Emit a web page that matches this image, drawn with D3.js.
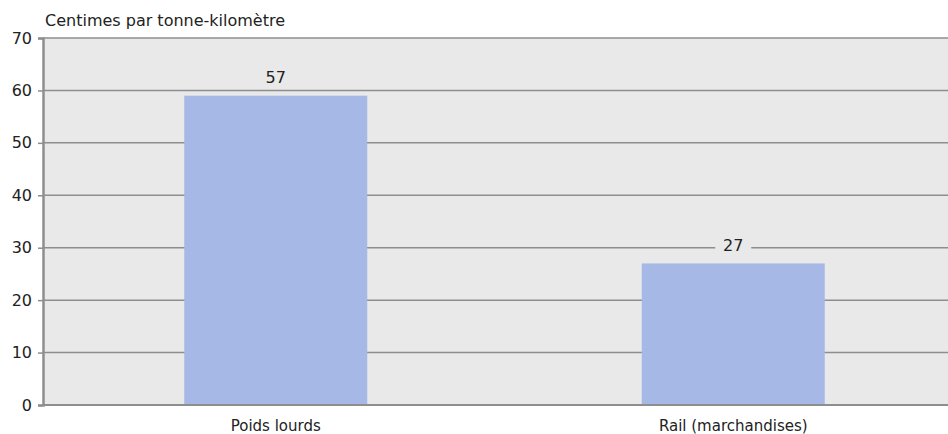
<!DOCTYPE html>
<html><head><meta charset="utf-8">
<script src="https://cdn.jsdelivr.net/npm/d3@7"></script>
<style>body{margin:0;background:#fff;}svg{display:block;font-family:"DejaVu Sans",sans-serif;}</style>
</head><body><div id="c"></div>
<script>
const categories = ["Poids lourds", "Rail (marchandises)"];
const values = [59, 27];
const valueLabels = ["57", "27"];
const yTicks = [0, 10, 20, 30, 40, 50, 60, 70];
const yTitle = "Centimes par tonne-kilomètre";

const W = 948, H = 434;
const plot = {left: 43, right: 948, top: 38, bottom: 405};
const svg = d3.select("#c").append("svg").attr("width", W).attr("height", H);

const y = d3.scaleLinear().domain([0, 70]).range([plot.bottom, plot.top]);
const x = d3.scaleBand().domain(categories).range([47, 962]).paddingInner(0.6).paddingOuter(0.3);

svg.append("rect").attr("x", plot.left).attr("y", plot.top)
  .attr("width", plot.right - plot.left).attr("height", plot.bottom - plot.top).attr("fill", "#e9e9e9");

svg.append("g").selectAll("line").data(yTicks.filter(d => d > 0)).join("line")
  .attr("x1", plot.left).attr("x2", plot.right)
  .attr("y1", d => y(d)).attr("y2", d => y(d))
  .attr("stroke", "#8e8e8e").attr("stroke-width", 1.5);

svg.append("g").selectAll("rect").data(categories).join("rect")
  .attr("x", d => x(d)).attr("width", x.bandwidth())
  .attr("y", (d, i) => y(values[i])).attr("height", (d, i) => y(0) - y(values[i]))
  .attr("fill", "#a6b8e6");

const lg = svg.append("g").selectAll("g").data(categories).join("g")
  .attr("transform", (d, i) => `translate(${x(d) + x.bandwidth() / 2},${y(values[i]) - 18})`);
lg.append("rect").attr("x", -18).attr("y", -10).attr("width", 36).attr("height", 20).attr("fill", "#e9e9e9");
lg.append("text").attr("text-anchor", "middle").attr("dy", "0.36em")
  .attr("font-size", 16).attr("fill", "#222").text((d, i) => valueLabels[i]);

const ya = svg.append("g").attr("transform", `translate(${plot.left},0)`)
  .call(d3.axisLeft(y).tickValues(yTicks).tickSize(5).tickPadding(6));
ya.select(".domain").attr("stroke", "#8e8e8e").attr("stroke-width", 2.5);
ya.selectAll(".tick line").attr("stroke", "#8e8e8e").attr("stroke-width", 1.5);
ya.selectAll(".tick text").attr("font-size", 16).attr("fill", "#222").attr("font-family", "DejaVu Sans");

svg.append("line").attr("x1", plot.left).attr("x2", plot.right)
  .attr("y1", y(0)).attr("y2", y(0)).attr("stroke", "#8e8e8e").attr("stroke-width", 2);

svg.append("g").selectAll("text").data(categories).join("text")
  .attr("x", d => x(d) + x.bandwidth() / 2).attr("y", 431)
  .attr("text-anchor", "middle").attr("font-size", 15).attr("fill", "#222").text(d => d);

svg.append("text").attr("x", 45).attr("y", 26).attr("font-size", 16).attr("fill", "#222").text(yTitle);
</script></body></html>
